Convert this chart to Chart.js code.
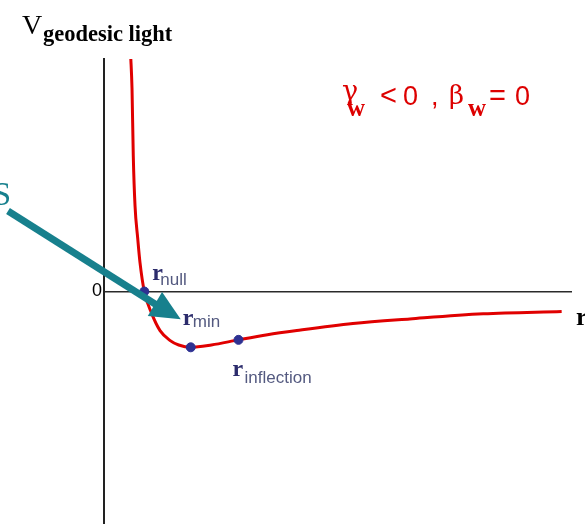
<!DOCTYPE html>
<html>
<head>
<meta charset="utf-8">
<script src="https://cdn.jsdelivr.net/npm/chart.js@4.4.1/dist/chart.umd.min.js"></script>
<style>
  html, body { margin: 0; padding: 0; background: #fff; }
  #c { display: block; }
</style>
</head>
<body>
<canvas id="c" width="585" height="524"></canvas>
<script>
// Effective potential for light geodesics, V(r), with gamma_w < 0 and beta_w = 0
const rValues = [0.57, 0.60, 0.627, 0.664, 0.722, 0.771, 0.863, 1.02, 1.20, 1.41, 1.60, 1.857, 2.30, 2.88, 3.50, 4.13, 5.33, 6.55, 8.12, 9.80];
const vValues = [5.10, 4.36, 2.92, 1.85, 1.14, 0.62, 0.00, -0.47, -0.84, -1.05, -1.15, -1.20, -1.15, -1.04, -0.93, -0.84, -0.69, -0.59, -0.48, -0.43];

// Special radii marked on the curve
const markerNames = ['null', 'min', 'inflection'];
const markerR = [0.863, 1.857, 2.88];
const markerV = [0.00, -1.20, -1.04];

// Axis range and the single labelled tick
const rRange = [0, 10];
const vRange = [-5, 5];
const yTickValues = [0];

const curvePoints = rValues.map((r, i) => ({ x: r, y: vValues[i] }));
const markerPoints = markerR.map((r, i) => ({ x: r, y: markerV[i] }));

const SERIF = '"Liberation Serif", "Times New Roman", serif';
const SANS = '"Liberation Sans", Arial, sans-serif';

const annotations = {
  id: 'annotations',
  afterDraw(chart) {
    const ctx = chart.ctx;
    const xs = chart.scales.x, ys = chart.scales.y;
    ctx.save();
    ctx.textBaseline = 'alphabetic';
    ctx.textAlign = 'left';

    // Vertical axis title
    ctx.fillStyle = '#000';
    ctx.font = '28px ' + SERIF;
    ctx.fillText('V', 22, 34);
    ctx.font = 'bold 22.5px ' + SERIF;
    ctx.fillText('geodesic light', 43, 41);

    // Horizontal axis title
    ctx.font = 'bold 26px ' + SERIF;
    ctx.fillText('r', 576, 325);

    // Parameter condition
    ctx.fillStyle = '#dd0000';
    ctx.font = '27px "DejaVu Serif", serif';
    ctx.fillText('\u03B3', 342, 100);
    ctx.font = '26px "DejaVu Serif", serif';
    ctx.fillText('\u03B2', 449, 104);
    ctx.font = '29px ' + SANS;
    ctx.fillText('<', 380, 105);
    ctx.fillText('=', 489, 105);
    ctx.font = '27px ' + SANS;
    ctx.fillText('0', 403, 105);
    ctx.fillText(',', 431, 105);
    ctx.fillText('0', 515, 105);
    ctx.font = 'bold 25px ' + SERIF;
    ctx.fillText('w', 347, 116);
    ctx.fillText('w', 468, 116);

    // Marker labels
    const offsets = [
      { r: [8, -12], s: [16, -7] },
      { r: [-8, -22], s: [2, -20] },
      { r: [-6, 36], s: [6, 43] }
    ];
    markerNames.forEach((name, i) => {
      const px = xs.getPixelForValue(markerR[i]);
      const py = ys.getPixelForValue(markerV[i]);
      const o = offsets[i];
      ctx.fillStyle = '#2c2c6c';
      ctx.font = 'bold 24px ' + SERIF;
      ctx.fillText('r', px + o.r[0], py + o.r[1]);
      ctx.fillStyle = '#545a80';
      ctx.font = '17px ' + SANS;
      ctx.fillText(name, px + o.s[0], py + o.s[1]);
    });

    // Pointer arrow towards the minimum
    const mx = xs.getPixelForValue(markerR[1]);
    const my = ys.getPixelForValue(markerV[1]);
    const tip = { x: mx - 10, y: my - 28 };
    const dir = { x: 0.86, y: 0.51 };
    const perp = { x: -dir.y, y: dir.x };
    const headLen = 30, headHalf = 14;
    const base = { x: tip.x - dir.x * headLen, y: tip.y - dir.y * headLen };
    ctx.strokeStyle = '#17808d';
    ctx.fillStyle = '#17808d';
    ctx.lineWidth = 7;
    ctx.lineCap = 'butt';
    ctx.beginPath();
    ctx.moveTo(8, 211);
    ctx.lineTo(base.x + dir.x * 2, base.y + dir.y * 2);
    ctx.stroke();
    ctx.beginPath();
    ctx.moveTo(tip.x, tip.y);
    ctx.lineTo(base.x + perp.x * headHalf, base.y + perp.y * headHalf);
    ctx.lineTo(base.x - perp.x * headHalf, base.y - perp.y * headHalf);
    ctx.closePath();
    ctx.fill();

    ctx.font = '33px ' + SERIF;
    ctx.textAlign = 'right';
    ctx.fillText('S', 11, 205);
    ctx.restore();
  }
};

new Chart(document.getElementById('c'), {
  type: 'line',
  data: {
    datasets: [
      {
        data: curvePoints,
        borderColor: '#e00000',
        borderWidth: 3,
        pointRadius: 0,
        cubicInterpolationMode: 'monotone',
        fill: false,
        order: 2
      },
      {
        type: 'scatter',
        data: markerPoints,
        backgroundColor: '#2e3192',
        borderColor: '#2e3192',
        pointRadius: 4.5,
        order: 1
      }
    ]
  },
  options: {
    responsive: false,
    devicePixelRatio: 1,
    animation: false,
    layout: { autoPadding: false, padding: { left: 0, right: 14, top: 59, bottom: 0 } },
    plugins: {
      legend: { display: false },
      tooltip: { enabled: false }
    },
    scales: {
      x: {
        type: 'linear',
        min: rRange[0],
        max: rRange[1],
        position: { y: 0 },
        grid: { display: false, drawTicks: false },
        border: { display: true, color: '#2a2a2a', width: 1.5 },
        ticks: { display: false },
        afterFit: (s) => { s.height = 0; s.paddingLeft = s.paddingRight = 0; }
      },
      y: {
        type: 'linear',
        min: vRange[0],
        max: vRange[1],
        position: 'left',
        grid: { display: false, drawTicks: false },
        border: { display: true, color: '#222', width: 2 },
        afterBuildTicks: (s) => { s.ticks = yTickValues.map(v => ({ value: v })); },
        afterFit: (s) => { s.width = 104; s.paddingTop = s.paddingBottom = 0; },
        ticks: {
          color: '#000',
          padding: 2,
          font: { family: SANS, size: 18 },
          callback: (v) => String(v)
        }
      }
    }
  },
  plugins: [annotations]
});
</script>
</body>
</html>
